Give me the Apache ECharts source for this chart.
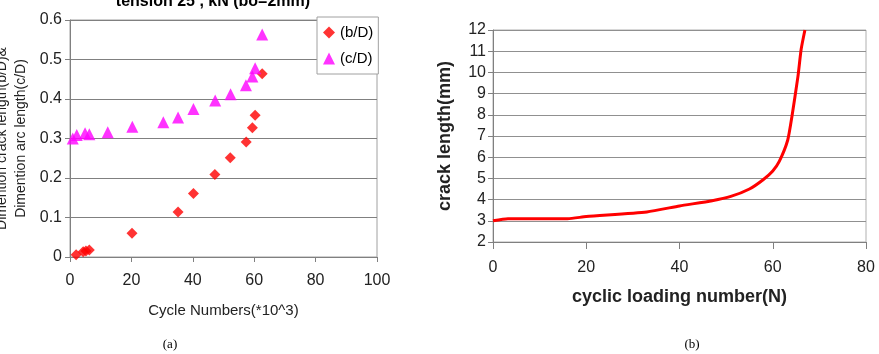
<!DOCTYPE html>
<html><head><meta charset="utf-8">
<script src="https://cdn.jsdelivr.net/npm/echarts@6/dist/echarts.min.js"></script>
<style>html,body{margin:0;padding:0;background:#fff}#c{width:879px;height:354px}</style>
</head><body><div id="c"></div>
<script>
const bD = [[2,0.006],[4.3,0.013],[5.2,0.015],[6.3,0.018],[20.2,0.060],[35.2,0.114],[40.2,0.161],[47.2,0.209],[52.2,0.251],[57.4,0.291],[59.4,0.327],[60.3,0.359],[62.6,0.464]];
const cD = [[0.9,0.300],[2.2,0.309],[4.9,0.313],[6.3,0.311],[12.3,0.316],[20.3,0.330],[30.4,0.341],[35.2,0.353],[40.2,0.375],[47.3,0.396],[52.3,0.412],[57.3,0.435],[59.4,0.457],[60.3,0.478],[62.6,0.563]];
const crack = [[0,3.0],[3.2,3.1],[16,3.1],[20,3.2],[33,3.42],[40,3.7],[47,3.95],[51,4.15],[55,4.5],[58,4.95],[60,5.35],[61.4,5.8],[63.2,6.8],[64.1,7.9],[65.4,9.8],[66.1,11.1],[66.9,12]];

const chart = echarts.init(document.getElementById('c'));
const F = 'Arial, "Liberation Sans", sans-serif';
const S = '"Liberation Serif", "Times New Roman", serif';
chart.setOption({
  animation:false,
  title:[
    {text:'tension 25 , kN (bo=2mm)', left:208, top:-11, textAlign:'center', textStyle:{fontFamily:F,fontSize:16,fontWeight:'bold',color:'#000'}},
    {text:'(a)', left:165, top:333, textAlign:'center', textStyle:{fontFamily:S,fontSize:13,fontWeight:'normal',color:'#000'}},
    {text:'(b)', left:687, top:333, textAlign:'center', textStyle:{fontFamily:S,fontSize:13,fontWeight:'normal',color:'#000'}}
  ],
  legend:{
    left:317, top:17, width:45, orient:'vertical', itemGap:11, padding:[8,5,8,6],
    borderColor:'#a0a0a0', borderWidth:1, backgroundColor:'#fff',
    itemWidth:12, itemHeight:12, textStyle:{fontFamily:F,fontSize:15,color:'#000'},
    data:[{name:'(b/D)',icon:'diamond'},{name:'(c/D)',icon:'triangle'}]
  },
  grid:[
    {left:70, top:20, width:307, height:237, show:true, borderColor:'#a0a0a0', borderWidth:1, containLabel:false, outerBoundsMode:'none'},
    {left:493, top:30, width:373, height:212, show:true, borderColor:'#b0b0b0', borderWidth:1, containLabel:false, outerBoundsMode:'none'}
  ],
  xAxis:[
    {gridIndex:0, type:'value', min:0, max:100, interval:20,
     name:'Cycle Numbers(*10^3)', nameLocation:'middle', nameGap:46,
     nameTextStyle:{fontFamily:F,fontSize:15,color:'#222'},
     axisLine:{show:true,lineStyle:{color:'#808080'}}, axisTick:{show:true,inside:false,length:5,lineStyle:{color:'#808080'}},
     axisLabel:{fontFamily:F,fontSize:16,color:'#222',margin:16}, splitLine:{show:false}},
    {gridIndex:1, type:'value', min:0, max:80, interval:20,
     name:'cyclic loading number(N)', nameLocation:'middle', nameGap:46,
     nameTextStyle:{fontFamily:F,fontSize:18,fontWeight:'bold',color:'#222'},
     axisLine:{show:true,lineStyle:{color:'#808080'}}, axisTick:{show:true,inside:false,length:7,lineStyle:{color:'#808080'}},
     axisLabel:{fontFamily:F,fontSize:16,color:'#222',margin:18}, splitLine:{show:false}}
  ],
  yAxis:[
    {gridIndex:0, type:'value', min:0, max:0.6, interval:0.1,
     name:'Dimention crack length(b/D)&\nDimention arc length(c/D)', nameLocation:'middle', nameGap:39, nameRotate:90,
     nameTextStyle:{fontFamily:F,fontSize:14,color:'#222',lineHeight:19},
     axisLine:{show:true,lineStyle:{color:'#808080'}}, axisTick:{show:true,inside:false,length:5,lineStyle:{color:'#808080'}},
     axisLabel:{fontFamily:F,fontSize:16,color:'#222',margin:8,formatter:v=>v===0?'0':v.toFixed(1)},
     splitLine:{show:true,lineStyle:{color:'#808080'}}},
    {gridIndex:1, type:'value', min:2, max:12, interval:1,
     name:'crack length(mm)', nameLocation:'middle', nameGap:39, nameRotate:90,
     nameTextStyle:{fontFamily:F,fontSize:18,fontWeight:'bold',color:'#222'},
     axisLine:{show:true,lineStyle:{color:'#808080'}}, axisTick:{show:true,inside:false,length:5,lineStyle:{color:'#808080'}},
     axisLabel:{fontFamily:F,fontSize:16,color:'#222',margin:7},
     splitLine:{show:true,lineStyle:{color:'#909090'}}}
  ],
  series:[
    {name:'(b/D)', type:'scatter', xAxisIndex:0, yAxisIndex:0, data:bD, symbol:'diamond', symbolSize:11, itemStyle:{color:'#ff0000'}},
    {name:'(c/D)', type:'scatter', xAxisIndex:0, yAxisIndex:0, data:cD, symbol:'triangle', symbolSize:12, itemStyle:{color:'#ff00ff'}},
    {name:'crack', type:'line', xAxisIndex:1, yAxisIndex:1, data:crack, showSymbol:false, symbol:'none', smooth:0.2,
     lineStyle:{color:'#ff0000',width:3}}
  ]
});
</script></body></html>
